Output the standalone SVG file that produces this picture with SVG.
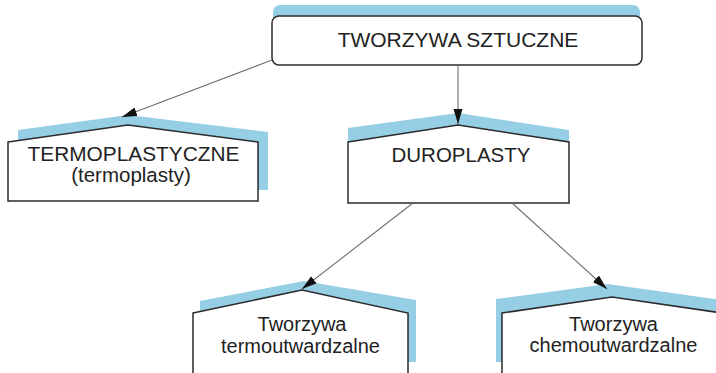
<svg xmlns="http://www.w3.org/2000/svg" width="716" height="373" viewBox="0 0 716 373">
<defs>
<style>
.bg{fill:#ffffff}
.band{fill:#96cfe5;stroke:none}
.box{fill:#ffffff;stroke:#2b2b2b;stroke-width:1.5;stroke-linejoin:miter}
.lbl{font-family:"Liberation Sans",Arial,sans-serif;fill:#222;text-anchor:middle}
.conn{stroke:#6e6e6e;stroke-width:1.1;fill:none}
</style>
<marker id="arr" markerUnits="userSpaceOnUse" markerWidth="16" markerHeight="10" refX="15" refY="5" orient="auto">
<path d="M0,0.5 L15,5 L0,9.5 Z" fill="#111"/>
</marker>
</defs>
<rect class="bg" x="0" y="0" width="716" height="373"/>

<g id="node-tworzywa-sztuczne">
<rect class="band" x="273" y="5" width="367" height="30" rx="7"/>
<rect class="box" x="272" y="16" width="370" height="49" rx="7"/>
<text class="lbl" x="458" y="47" font-size="21">TWORZYWA SZTUCZNE</text>
</g>

<g id="node-termoplastyczne">
<polygon class="band" points="18,130 128,115 268,132 268,190 18,190"/>
<polygon class="box" points="8,142 128,125 258,142 258,201 8,201"/>
<text class="lbl" x="133.5" y="161" font-size="20.5" textLength="212" lengthAdjust="spacingAndGlyphs">TERMOPLASTYCZNE</text>
<text class="lbl" x="131" y="182" font-size="20.5">(termoplasty)</text>
</g>

<g id="node-duroplasty">
<polygon class="band" points="348,128 458,113 569,130 569,150 348,150"/>
<polygon class="box" points="348,142 458,125 569,142 569,203 348,203"/>
<text class="lbl" x="461" y="162" font-size="20.5">DUROPLASTY</text>
</g>

<g id="node-termoutwardzalne">
<polygon class="band" points="200,301 304,281 416,300 416,362 200,362"/>
<polygon class="box" points="193,313 302,290 408,313 408,380 193,380"/>
<text class="lbl" x="302" y="331" font-size="20">Tworzywa</text>
<text class="lbl" x="300.5" y="353" font-size="20">termoutwardzalne</text>
</g>

<g id="node-chemoutwardzalne">
<polygon class="band" points="496,299 608,284 722,300 722,362 496,362"/>
<polygon class="box" points="502,313 612,297 722,313 722,380 502,380"/>
<text class="lbl" x="613.5" y="331" font-size="20">Tworzywa</text>
<text class="lbl" x="613.5" y="352" font-size="20">chemoutwardzalne</text>
</g>

<g id="connectors">
<line class="conn" x1="272" y1="60" x2="122" y2="117" marker-end="url(#arr)"/>
<line class="conn" x1="458" y1="65" x2="458" y2="124" marker-end="url(#arr)"/>
<line class="conn" x1="413" y1="203" x2="302" y2="289" marker-end="url(#arr)"/>
<line class="conn" x1="512" y1="203" x2="607" y2="289" marker-end="url(#arr)"/>
</g>
</svg>
